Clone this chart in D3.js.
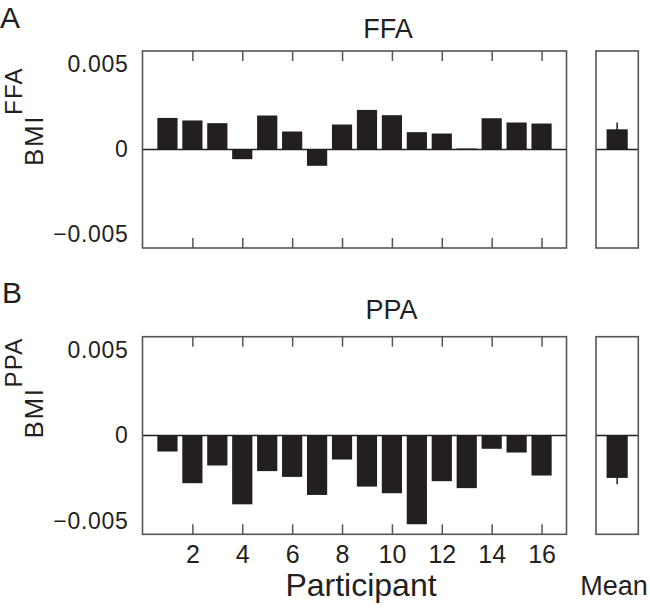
<!DOCTYPE html>
<html>
<head>
<meta charset="utf-8">
<script src="https://cdn.jsdelivr.net/npm/d3@7"></script>
<style>
  html, body { margin: 0; padding: 0; background: #fff; }
  svg { display: block; font-family: "Liberation Sans", Arial, Helvetica, sans-serif; }
</style>
</head>
<body>
<svg id="chart" width="650" height="613"></svg>
<script>
// ---- Data ----
const participants = [1, 2, 3, 4, 5, 6, 7, 8, 9, 10, 11, 12, 13, 14, 15, 16];
const xTickValues = [2, 4, 6, 8, 10, 12, 14, 16];
const yTickValues = [-0.005, 0, 0.005];
const ffaValues = [0.00186, 0.00171, 0.00155, -0.00057, 0.00200, 0.00106, -0.00096, 0.00147,
                   0.00233, 0.00202, 0.00102, 0.00094, 0.00006, 0.00184, 0.00159, 0.00153];
const ppaValues = [-0.00094, -0.00280, -0.00176, -0.00404, -0.00209, -0.00243, -0.00349, -0.00141,
                   -0.00300, -0.00339, -0.00521, -0.00268, -0.00309, -0.00078, -0.00100, -0.00235];
const ffaMean = [0.00119];
const ffaSE = [0.00040];
const ppaMean = [-0.00249];
const ppaSE = [0.00037];
const meanCategory = ["Mean"];

// ---- Style ----
const ink = "#231f20";
const frame = "#555555";

const svg = d3.select("#chart");

const mainLeft = 142.5, mainRight = 566.5;
const meanLeft = 596, meanRight = 638.3;

const x = d3.scaleLinear().domain([0, 17]).range([mainLeft, mainRight]);
const barW = (x(1) - x(0)) * 0.81;
const xm = d3.scaleBand().domain(meanCategory).range([meanLeft, meanRight])
  .paddingInner(0.5).paddingOuter(0.25);

const yFmt = d => d === 0 ? "0" : d3.format(".3f")(d);

function drawPanel(opts) {
  const { top, bottom, values, mean, se, title, letter, region, showXLabels } = opts;
  const y = d3.scaleLinear().domain([-0.0058, 0.0058]).range([bottom, top]);
  const g = svg.append("g");

  // panel letter
  g.append("text").attr("x", opts.letterX).attr("y", opts.letterY)
    .attr("font-size", 30).attr("fill", ink).text(letter);

  // title
  g.append("text").attr("x", opts.titleX).attr("y", opts.titleY)
    .attr("text-anchor", "middle").attr("font-size", 27).attr("fill", ink).text(title);

  // bars
  g.selectAll("rect.bar").data(participants).join("rect")
    .attr("class", "bar")
    .attr("x", (p) => x(p) - barW / 2)
    .attr("width", barW)
    .attr("y", (p, i) => y(Math.max(0, values[i])))
    .attr("height", (p, i) => Math.abs(y(values[i]) - y(0)))
    .attr("fill", ink);

  // zero line main
  g.append("line").attr("x1", mainLeft).attr("x2", mainRight)
    .attr("y1", y(0)).attr("y2", y(0)).attr("stroke", ink).attr("stroke-width", 1.3);

  // y axis (labels only)
  const ya = g.append("g").attr("transform", `translate(${mainLeft},0)`)
    .call(d3.axisLeft(y).tickValues(yTickValues).tickSize(0).tickPadding(14).tickFormat(yFmt));
  ya.select(".domain").remove();
  ya.selectAll("text").attr("font-size", 23).attr("letter-spacing", 0.7)
    .attr("fill", ink).attr("font-family", null);

  // top ticks
  const ta = g.append("g").attr("transform", `translate(0,${top})`)
    .call(d3.axisTop(x).tickValues(xTickValues).tickSize(-10).tickFormat(""));
  ta.select(".domain").remove();
  ta.selectAll("line").attr("stroke", frame).attr("stroke-width", 1.5);

  // bottom ticks
  const ba = g.append("g").attr("transform", `translate(0,${bottom})`)
    .call(d3.axisBottom(x).tickValues(xTickValues).tickSize(-10).tickPadding(11)
      .tickFormat(showXLabels ? d3.format("d") : ""));
  ba.select(".domain").remove();
  ba.selectAll("line").attr("stroke", frame).attr("stroke-width", 1.5);
  ba.selectAll("text").attr("font-size", 25).attr("fill", ink).attr("font-family", null);

  // frame main
  g.append("rect").attr("x", mainLeft).attr("y", top)
    .attr("width", mainRight - mainLeft).attr("height", bottom - top)
    .attr("fill", "none").attr("stroke", frame).attr("stroke-width", 1.6);

  // mean panel
  g.selectAll("rect.mean").data(meanCategory).join("rect")
    .attr("class", "mean")
    .attr("x", d => xm(d)).attr("width", xm.bandwidth())
    .attr("y", (d, i) => y(Math.max(0, mean[i])))
    .attr("height", (d, i) => Math.abs(y(mean[i]) - y(0)))
    .attr("fill", ink);
  g.selectAll("line.err").data(meanCategory).join("line")
    .attr("class", "err")
    .attr("x1", d => xm(d) + xm.bandwidth() / 2).attr("x2", d => xm(d) + xm.bandwidth() / 2)
    .attr("y1", (d, i) => y(mean[i] - se[i])).attr("y2", (d, i) => y(mean[i] + se[i]))
    .attr("stroke", ink).attr("stroke-width", 1.5);
  g.append("line").attr("x1", meanLeft).attr("x2", meanRight)
    .attr("y1", y(0)).attr("y2", y(0)).attr("stroke", ink).attr("stroke-width", 1.3);
  g.append("rect").attr("x", meanLeft).attr("y", top)
    .attr("width", meanRight - meanLeft).attr("height", bottom - top)
    .attr("fill", "none").attr("stroke", frame).attr("stroke-width", 1.6);

  // y label: BMI^region (rotated)
  const lab = g.append("g").attr("transform", `translate(${opts.ylabX},${opts.ylabY}) rotate(-90)`);
  const t1 = lab.append("text").attr("x", 0).attr("y", 0).attr("font-size", 26)
    .attr("letter-spacing", 1.6).attr("fill", ink).text("BMI");
  const w = t1.node().getComputedTextLength();
  lab.append("text").attr("x", w).attr("y", -21.5).attr("font-size", 24)
    .attr("letter-spacing", 1.2).attr("fill", ink).text(region);
}

drawPanel({
  top: 51, bottom: 248, values: ffaValues, mean: ffaMean, se: ffaSE,
  title: "FFA", letter: "A", region: "FFA", showXLabels: false,
  letterX: 0, letterY: 28, titleX: 388, titleY: 37.5, ylabX: 43.3, ylabY: 166
});
drawPanel({
  top: 336.7, bottom: 534.3, values: ppaValues, mean: ppaMean, se: ppaSE,
  title: "PPA", letter: "B", region: "PPA", showXLabels: true,
  letterX: 2, letterY: 303, titleX: 391.5, titleY: 319.3, ylabX: 43.3, ylabY: 438.5
});

svg.append("text").attr("x", 361).attr("y", 596).attr("text-anchor", "middle")
  .attr("font-size", 32).attr("fill", ink).text("Participant");
svg.append("text").attr("x", 614).attr("y", 595).attr("text-anchor", "middle")
  .attr("font-size", 27).attr("fill", ink).text("Mean");
</script>
</body>
</html>
